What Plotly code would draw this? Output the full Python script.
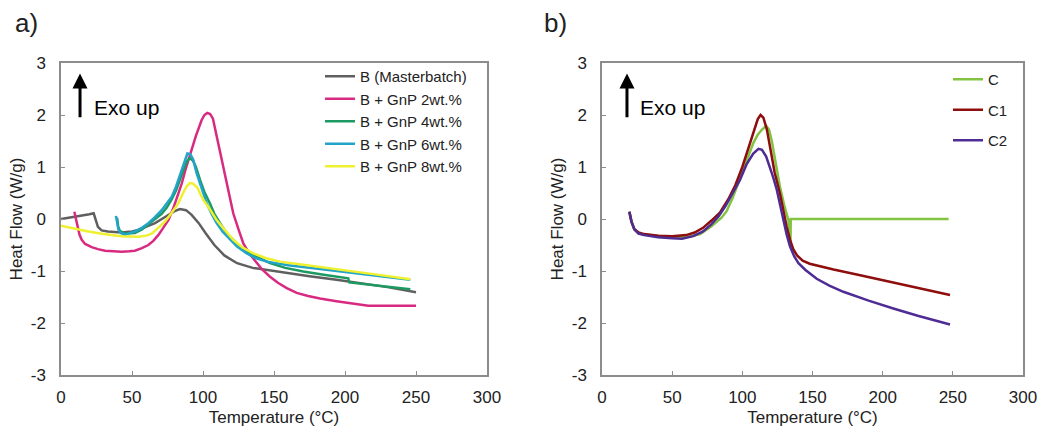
import plotly.graph_objects as go

# ---------------- data: panel a ----------------
mb_x = [0, 5, 10, 15, 20, 23, 24.5, 26, 28.6, 33, 42.7, 50, 54.5, 60, 66.2, 71, 75.6, 80, 83.8, 88, 92, 97,
        102, 108, 115, 124, 135, 147, 160, 175, 194, 210, 230, 250]
mb_y = [0, 0.02, 0.05, 0.07, 0.09, 0.11, 0.0, -0.15, -0.22, -0.24, -0.26, -0.24, -0.21, -0.15, -0.08, 0.0,
        0.08, 0.15, 0.19, 0.17, 0.08, -0.08, -0.28, -0.5, -0.7, -0.85, -0.94, -0.99, -1.04, -1.1, -1.17,
        -1.23, -1.31, -1.41]

g2_x = [9.4, 10.5, 11.5, 13, 14.6, 17, 21.6, 26, 31, 37, 42.7, 48, 52, 57, 61.5, 65, 68.5, 72, 75.6, 79, 82,
        85, 88, 91, 95, 99, 101, 103, 105, 107, 110, 114.3, 118, 121.3, 125, 128.4, 133, 137.8, 142, 147.2,
        153, 159, 166, 174, 182.4, 194, 205.8, 216.4, 230, 250]
g2_y = [0.14, 0.0, -0.15, -0.3, -0.40, -0.48, -0.54, -0.58, -0.61, -0.62, -0.63, -0.62, -0.61, -0.56, -0.5,
        -0.42, -0.31, -0.17, -0.02, 0.2, 0.42, 0.68, 0.98, 1.25, 1.6, 1.9, 2.0, 2.04, 2.02, 1.93, 1.55, 0.94,
        0.5, 0.11, -0.2, -0.47, -0.68, -0.85, -0.98, -1.11, -1.23, -1.33, -1.42, -1.48, -1.53, -1.58, -1.62,
        -1.67, -1.67, -1.67]

g4_x = [39.5, 40.3, 41.5, 45, 52, 57, 61.5, 66, 70.9, 74.5, 78, 81, 84, 87, 89, 90.8, 93, 95, 97.9, 101,
        104.9, 108, 112, 116, 121.3, 127, 133, 140, 147.2, 158, 170.6, 185, 202.3, 203, 215, 230, 246]
g4_y = [0.02, -0.15, -0.23, -0.28, -0.27, -0.2, -0.1, 0.0, 0.1, 0.22, 0.38, 0.55, 0.78, 1.0, 1.12, 1.17,
        1.12, 1.0, 0.75, 0.52, 0.3, 0.1, -0.08, -0.25, -0.40, -0.55, -0.66, -0.76, -0.85, -0.94, -1.01,
        -1.07, -1.14, -1.22, -1.26, -1.31, -1.35]

g6_x = [38.7, 39.3, 40.4, 42, 45, 52, 57, 61.5, 66, 70.9, 74.5, 78, 81, 84, 86.5, 89, 91, 93, 95.5, 99,
        102.6, 106, 109.6, 114, 119, 124, 130.8, 137, 144.9, 160, 182.4, 200, 220, 246]
g6_y = [0.06, -0.05, -0.2, -0.27, -0.3, -0.24, -0.17, -0.08, 0.03, 0.17, 0.3, 0.43, 0.62, 0.85, 1.08, 1.26,
        1.25, 1.15, 0.88, 0.58, 0.30, 0.1, -0.08, -0.25, -0.40, -0.53, -0.66, -0.75, -0.82, -0.89, -0.96,
        -1.02, -1.08, -1.17]

g8_x = [0, 10, 19.2, 30, 42.7, 54.5, 60, 63.9, 68, 73.2, 78, 82.6, 86, 88.5, 90.8, 93, 96, 100.2, 105,
        109.6, 115, 121.3, 128, 135.4, 144, 154.2, 168, 182.4, 200, 220, 246]
g8_y = [-0.13, -0.19, -0.24, -0.29, -0.33, -0.34, -0.32, -0.28, -0.18, -0.05, 0.12, 0.30, 0.5, 0.63, 0.69,
        0.68, 0.6, 0.37, 0.18, -0.02, -0.2, -0.40, -0.55, -0.66, -0.75, -0.82, -0.87, -0.92, -0.99, -1.06,
        -1.16]

# ---------------- data: panel b ----------------
c_x = [19.5, 21, 23, 26, 30, 40, 50, 60, 70, 78, 85, 88.8, 93, 97, 101, 105, 107.8, 111, 114, 117, 119,
       121, 123.5, 126.8, 130, 132.8, 134.3, 134.5, 150, 200, 247]
c_y = [0.14, -0.05, -0.2, -0.27, -0.3, -0.33, -0.35, -0.35, -0.29, -0.14, 0.02, 0.15, 0.4, 0.68, 0.98, 1.25,
       1.46, 1.62, 1.72, 1.79, 1.72, 1.5, 1.1, 0.62, 0.25, -0.02, -0.5, 0.0, 0.0, 0.0, 0.0]

c1_x = [19.5, 21, 23, 26, 30, 40, 50, 60, 66, 72, 78, 84, 90, 95, 100, 103.1, 106, 109, 111, 113, 115, 117.5,
        120, 123, 126.8, 129, 131.6, 134, 136.3, 139, 143, 148, 155, 165, 184, 203, 220, 235, 248]
c1_y = [0.14, -0.05, -0.19, -0.26, -0.29, -0.32, -0.33, -0.31, -0.26, -0.17, -0.03, 0.12, 0.38, 0.65, 1.0,
        1.26, 1.5, 1.75, 1.92, 2.0, 1.95, 1.72, 1.35, 0.9, 0.49, 0.18, -0.15, -0.4, -0.58, -0.7, -0.8, -0.86,
        -0.91, -0.97, -1.08, -1.19, -1.29, -1.38, -1.46]

c2_x = [19.5, 21, 23, 26, 30, 40, 50, 57, 65, 72, 78, 83, 88, 93, 98.3, 103, 107.8, 111.5, 114, 117, 119.7,
        122, 124.5, 127, 129.2, 131.6, 134, 137, 140, 145, 153, 162, 172, 190, 207.6, 225, 248]
c2_y = [0.14, -0.05, -0.2, -0.28, -0.31, -0.35, -0.37, -0.38, -0.33, -0.24, -0.1, 0.05, 0.25, 0.5, 0.75,
        1.05, 1.26, 1.35, 1.33, 1.2, 1.0, 0.8, 0.57, 0.25, -0.02, -0.3, -0.53, -0.72, -0.85, -0.98, -1.15,
        -1.28, -1.4, -1.57, -1.72, -1.86, -2.03]

x_ticks = [0, 50, 100, 150, 200, 250, 300]
y_ticks = [-3, -2, -1, 0, 1, 2, 3]
y_tick_text = ["-3", "-2", "-1", "0", "1", "2", "3"]

FONT = "Liberation Sans, Arial, sans-serif"
TXT = "#222222"
AXC = "#8c8c8c"

fig = go.Figure()

series_a = [
    ("B (Masterbatch)", mb_x, mb_y, "#5f5f5f"),
    ("B + GnP 2wt.%", g2_x, g2_y, "#d82a80"),
    ("B + GnP 4wt.%", g4_x, g4_y, "#1d9a62"),
    ("B + GnP 6wt.%", g6_x, g6_y, "#22a4c8"),
    ("B + GnP 8wt.%", g8_x, g8_y, "#eef030"),
]
for name, xs, ys, col in series_a:
    fig.add_trace(go.Scatter(x=xs, y=ys, name=name, mode="lines", xaxis="x", yaxis="y",
                             line=dict(color=col, width=2.5), legend="legend"))

series_b = [
    ("C", c_x, c_y, "#82c341", "gC"),
    ("C1", c1_x, c1_y, "#8e0d0d", "gC1"),
    ("C2", c2_x, c2_y, "#4e2c94", "gC2"),
]
for name, xs, ys, col, grp in series_b:
    fig.add_trace(go.Scatter(x=xs, y=ys, name=name, mode="lines", xaxis="x2", yaxis="y2",
                             line=dict(color=col, width=2.5), legend="legend2", legendgroup=grp))

axis_common = dict(showline=True, mirror=True, linecolor=AXC, linewidth=1.5, ticks="inside", ticklen=4,
                   tickcolor=AXC, showgrid=False, zeroline=False, automargin=False,
                   tickfont=dict(family=FONT, size=17, color=TXT))

xa = dict(axis_common, range=[0, 300], tickvals=x_ticks, ticklabelstandoff=6,
          title=dict(text="Temperature (°C)", font=dict(family=FONT, size=17, color=TXT), standoff=5))
ya = dict(axis_common, range=[-3, 3], tickvals=y_ticks, ticktext=y_tick_text, ticklabelstandoff=10,
          title=dict(text="Heat Flow (W/g)", font=dict(family=FONT, size=17, color=TXT), standoff=4))

W, H = 1048, 432
fig.update_layout(
    width=W, height=H,
    margin=dict(l=0, r=0, t=0, b=0),
    paper_bgcolor="white", plot_bgcolor="white",
    font=dict(family=FONT, color=TXT),
    xaxis=dict(xa, domain=[61 / W, 487 / W], anchor="y"),
    yaxis=dict(ya, domain=[1 - 375 / H, 1 - 63 / H], anchor="x"),
    xaxis2=dict(xa, domain=[602 / W, 1023 / W], anchor="y2"),
    yaxis2=dict(ya, domain=[1 - 375 / H, 1 - 63 / H], anchor="x2"),
    legend=dict(x=320 / W, y=1 - 60 / H, xanchor="left", yanchor="top", bgcolor="rgba(0,0,0,0)",
                font=dict(family=FONT, size=15, color=TXT)),
    legend2=dict(x=948 / W, y=1 - 63 / H, xanchor="left", yanchor="top", bgcolor="rgba(0,0,0,0)",
                 tracegroupgap=8, font=dict(family=FONT, size=15, color=TXT)),
    showlegend=True,
)

# panel labels
fig.add_annotation(text="a)", xref="paper", yref="paper", x=13 / W, y=1 - 23 / H, xanchor="left",
                   yanchor="middle", showarrow=False, font=dict(family=FONT, size=26, color=TXT))
fig.add_annotation(text="b)", xref="paper", yref="paper", x=542 / W, y=1 - 23 / H, xanchor="left",
                   yanchor="middle", showarrow=False, font=dict(family=FONT, size=26, color=TXT))

# Exo up arrows and text
for xr, yr, ax_x, tx_x in [("x", "y", 13.4, 22.0), ("x2", "y2", 17.8, 26.0)]:
    fig.add_annotation(x=ax_x, y=2.8, ax=ax_x, ay=1.93, xref=xr, yref=yr, axref=xr, ayref=yr,
                       text="", showarrow=True, arrowhead=2, arrowsize=1, arrowwidth=3, arrowcolor="black")
    fig.add_annotation(x=tx_x, y=2.14, xref=xr, yref=yr, text="Exo up", showarrow=False, xanchor="left",
                       yanchor="middle", font=dict(family=FONT, size=21, color="black"))

fig.write_html("out.html")
